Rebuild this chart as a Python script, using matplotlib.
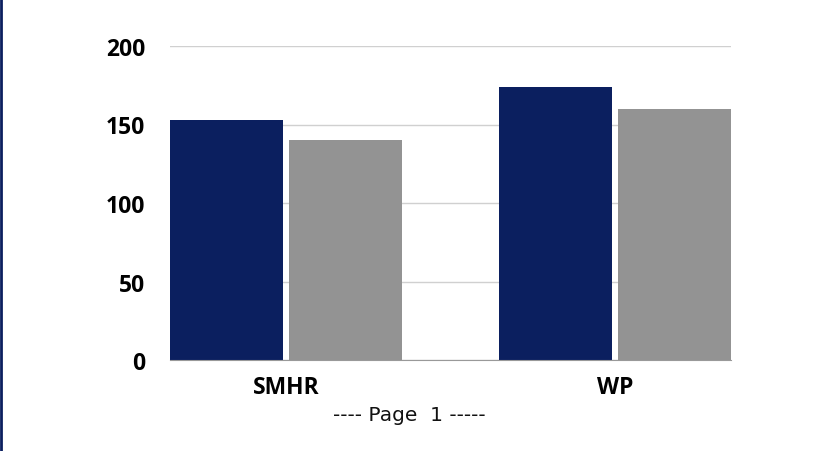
import matplotlib.pyplot as plt
import numpy as np

categories = ['SMHR', 'WP']
series_a = [153, 174]
series_b = [140, 160]
yticks = [0, 50, 100, 150, 200]

navy = '#0b1f5f'
gray = '#939393'

fig = plt.figure(figsize=(8.34, 4.52), dpi=100)
ax = fig.add_axes([170 / 834, (452 - 361) / 452, 561 / 834, 314 / 452])

x = np.arange(len(categories))
w = 0.343
off = w / 2 + 0.009
ax.bar(x - off, series_a, width=w, color=navy, zorder=3)
ax.bar(x + off, series_b, width=w, color=gray, zorder=3)

ax.set_xlim(-0.352, 1.352)
ax.set_ylim(0, 200)
ax.set_yticks(yticks)
ax.set_xticks(x)
ax.set_xticklabels(categories)
ax.grid(axis='y', color='#d0d0d0', linewidth=1, zorder=0)
ax.tick_params(length=0)
ax.tick_params(axis='y', pad=18)
ax.tick_params(axis='x', pad=11)
for lbl in ax.get_xticklabels() + ax.get_yticklabels():
    lbl.set_fontfamily('Open Sans')
    lbl.set_fontweight('bold')
    lbl.set_fontsize(16.5)
for s in ['top', 'right', 'left']:
    ax.spines[s].set_visible(False)
ax.spines['bottom'].set_color('#999999')
ax.spines['bottom'].set_zorder(4)

fig.text(409 / 834, 1 - 416 / 452, '---- Page  1 -----', ha='center', va='center',
         fontsize=14.5, family='DejaVu Sans', color='#111111')

# left border line
fig.add_artist(plt.Line2D([0.001, 0.001], [0, 1], color=navy, linewidth=2,
                          transform=fig.transFigure))

fig.savefig('out.png', dpi=100)
